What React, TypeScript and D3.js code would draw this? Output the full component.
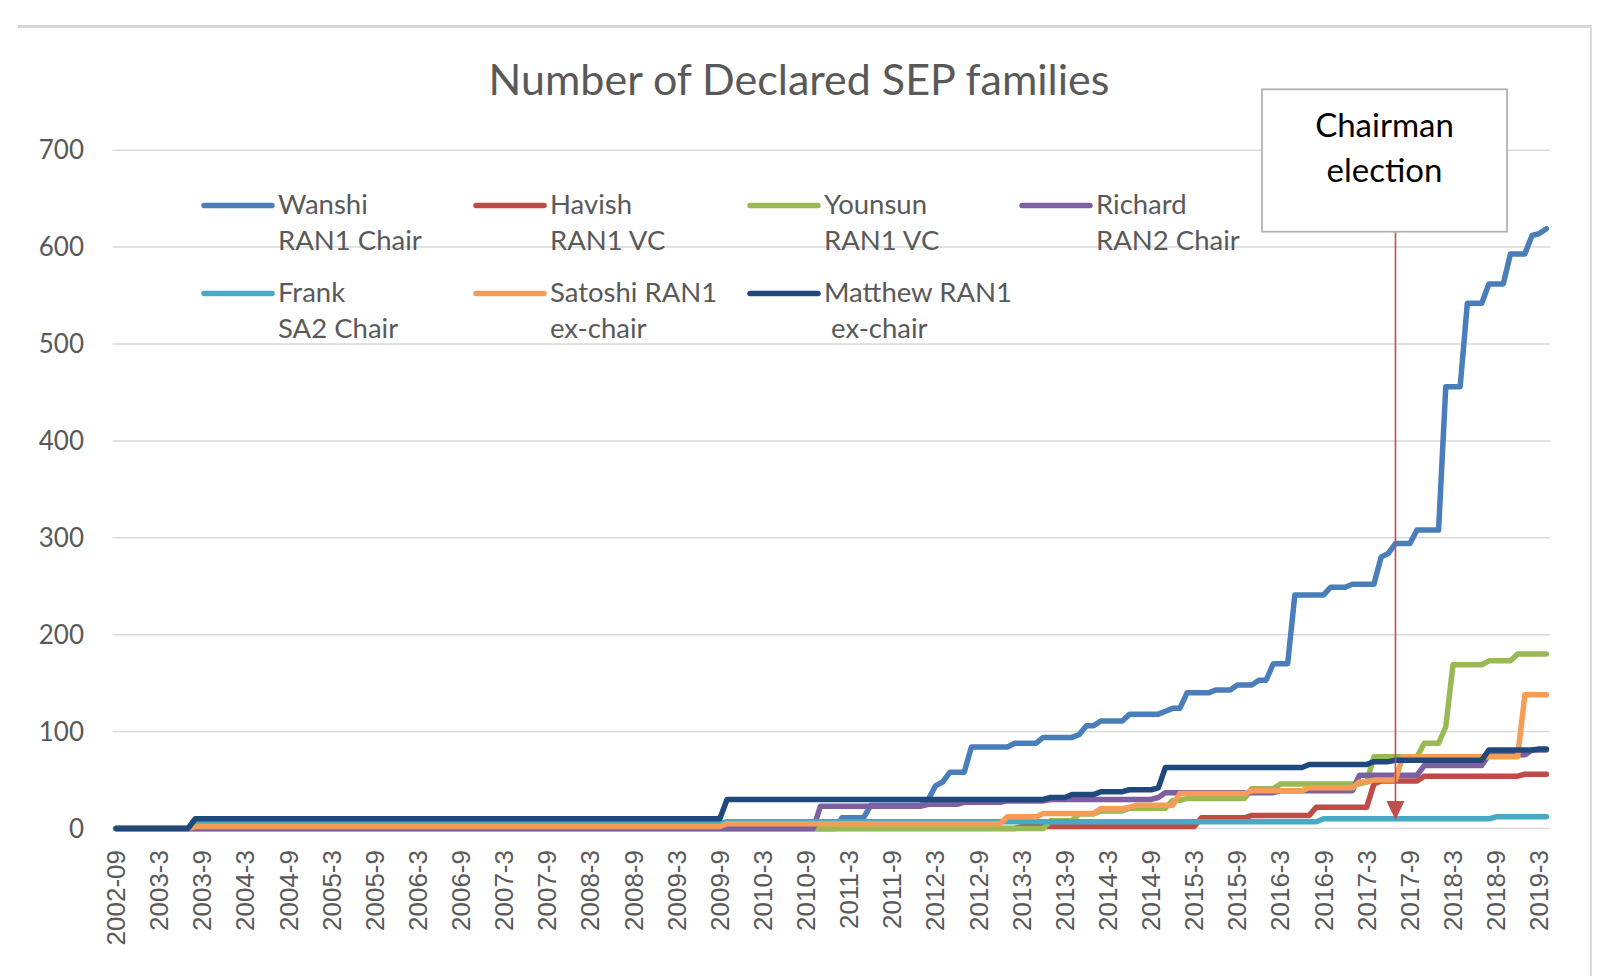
import React from 'react';
import * as d3 from 'd3';

// ---------- data ----------
const START_MONTH = '2002-09';
const END_MONTH = '2019-04';

const tickLabels = [
  '2002-09', '2003-3', '2003-9', '2004-3', '2004-9', '2005-3', '2005-9', '2006-3', '2006-9',
  '2007-3', '2007-9', '2008-3', '2008-9', '2009-3', '2009-9', '2010-3', '2010-9', '2011-3',
  '2011-9', '2012-3', '2012-9', '2013-3', '2013-9', '2014-3', '2014-9', '2015-3', '2015-9',
  '2016-3', '2016-9', '2017-3', '2017-9', '2018-3', '2018-9', '2019-3',
];

const yTicks = [0, 100, 200, 300, 400, 500, 600, 700];

// cumulative counts: [month the value starts, value]
const wanshi: [string, number][] = [
  ['2002-09', 0], ['2011-02', 11], ['2011-06', 24], ['2012-02', 30], ['2012-03', 44],
  ['2012-04', 48], ['2012-05', 58], ['2012-08', 84], ['2013-02', 88], ['2013-06', 94],
  ['2013-11', 97], ['2013-12', 106], ['2014-02', 111], ['2014-06', 118], ['2014-11', 121],
  ['2014-12', 124], ['2015-02', 140], ['2015-06', 143], ['2015-09', 148], ['2015-12', 153],
  ['2016-02', 170], ['2016-05', 241], ['2016-10', 249], ['2017-01', 252], ['2017-05', 280],
  ['2017-06', 284], ['2017-07', 294], ['2017-10', 308], ['2018-02', 456], ['2018-05', 542],
  ['2018-08', 562], ['2018-11', 593], ['2019-02', 612], ['2019-03', 614], ['2019-04', 619],
];
const havish: [string, number][] = [
  ['2002-09', 0], ['2013-03', 2], ['2015-04', 11], ['2015-11', 13.5], ['2016-08', 22],
  ['2017-04', 46], ['2017-05', 49], ['2017-11', 54], ['2019-01', 56],
];
const younsun: [string, number][] = [
  ['2002-09', 0], ['2013-07', 8], ['2013-11', 15], ['2014-02', 18], ['2014-06', 21],
  ['2014-12', 29], ['2015-02', 31], ['2015-11', 41], ['2016-03', 46], ['2017-03', 48],
  ['2017-04', 74], ['2017-11', 88], ['2018-02', 105], ['2018-03', 169], ['2018-08', 173],
  ['2018-12', 180],
];
const richard: [string, number][] = [
  ['2002-09', 0], ['2010-11', 23], ['2012-02', 25], ['2012-07', 27], ['2013-01', 28.5],
  ['2013-07', 30], ['2014-10', 32], ['2014-11', 37], ['2016-03', 39], ['2017-02', 55],
  ['2017-11', 65], ['2018-08', 76], ['2019-02', 81],
];
const frank: [string, number][] = [
  ['2002-09', 0], ['2003-08', 5], ['2009-10', 7], ['2016-09', 10], ['2018-09', 12],
];
const satoshi: [string, number][] = [
  ['2002-09', 0], ['2003-08', 2], ['2009-10', 5], ['2013-01', 12], ['2013-06', 15.5],
  ['2014-02', 20.5], ['2014-06', 22], ['2014-07', 24], ['2015-01', 36], ['2015-11', 39],
  ['2016-07', 42], ['2017-02', 48], ['2017-04', 50], ['2017-08', 74], ['2019-01', 138],
];
const matthew: [string, number][] = [
  ['2002-09', 0], ['2003-08', 10], ['2009-10', 30], ['2013-07', 32], ['2013-10', 35],
  ['2014-02', 38], ['2014-06', 40], ['2014-10', 42], ['2014-11', 63], ['2016-07', 66],
  ['2017-04', 69], ['2017-07', 70.5], ['2018-08', 81], ['2019-03', 82],
];

const seriesNames = [
  ['Wanshi', 'RAN1 Chair'],
  ['Havish', 'RAN1 VC'],
  ['Younsun', 'RAN1 VC'],
  ['Richard', 'RAN2 Chair'],
  ['Frank', 'SA2 Chair'],
  ['Satoshi RAN1', 'ex-chair'],
  ['Matthew RAN1', ' ex-chair'],
];
const seriesData = [wanshi, havish, younsun, richard, frank, satoshi, matthew];
const seriesColors = ['#4a7ebb', '#be4b48', '#98b954', '#7d60a0', '#46aac5', '#f59d56', '#1f497d'];

const TITLE = 'Number of Declared SEP families';
const ANNOTATION = ['Chairman', 'election'];
const ANNOTATION_MONTH = '2017-07';

// ---------- helpers ----------
const fmt = d3.timeFormat('%Y-%m');
const parse = d3.timeParse('%Y-%m');
const months = d3.timeMonth.range(parse(START_MONTH)!, d3.timeMonth.offset(parse(END_MONTH)!, 1)).map(fmt);
const labelKey = (l: string) => {
  const [y, m] = l.split('-');
  return `${y}-${m.padStart(2, '0')}`;
};
const prevMonth = (k: string) => fmt(d3.timeMonth.offset(parse(k)!, -1));

const W = 1600;
const H = 976;
const plotLeft = 112.5;
const plotRight = 1550;
const yBottom = 828.5;
const yTop = 150.2;

export default function App() {
  const band = d3.scaleBand<string>().domain(months).range([plotLeft, plotRight]).paddingInner(0).paddingOuter(0);
  const x = (k: string) => (band(k) as number) + band.bandwidth() / 2;
  const y = d3.scaleLinear().domain([0, 700]).range([yBottom, yTop]);

  const line = d3
    .line<[string, number]>()
    .x((d) => x(d[0]))
    .y((d) => y(d[1]));

  const vertices = (steps: [string, number][]) => {
    const pts: [string, number][] = [steps[0]];
    for (let i = 1; i < steps.length; i++) {
      const pm = prevMonth(steps[i][0]);
      if (pm !== pts[pts.length - 1][0]) pts.push([pm, steps[i - 1][1]]);
      pts.push(steps[i]);
    }
    const last = steps[steps.length - 1];
    if (last[0] !== END_MONTH) pts.push([END_MONTH, last[1]]);
    return pts;
  };

  const legendCols = [204, 476, 750, 1022];
  const legendRows = [205.5, 293.5];
  const fontUI = 'Lato, "Open Sans", sans-serif';
  const grey = '#595959';

  const ax = x(ANNOTATION_MONTH);

  return (
    <svg width={W} height={H} style={{ position: 'absolute', left: 0, top: 0, background: '#fff' }}>
      <rect x={0} y={0} width={W} height={H} fill="#fff" />
      {/* chart frame */}
      <line x1={18} x2={1592} y1={26.5} y2={26.5} stroke="#d6d6d6" strokeWidth={3} />
      <line x1={1591} x2={1591} y1={26} y2={H} stroke="#dcdcdc" strokeWidth={2} />

      {/* title */}
      <text x={799} y={95} textAnchor="middle" fontFamily={fontUI} fontSize={43} fill={grey}>
        {TITLE}
      </text>

      {/* gridlines + y labels */}
      {yTicks.map((t) => (
        <g key={t}>
          <line x1={plotLeft} x2={plotRight} y1={y(t)} y2={y(t)} stroke="#d9d9d9" strokeWidth={1.5} />
          <text x={84} y={y(t) + 9} textAnchor="end" fontFamily={fontUI} fontSize={26} fill={grey}>
            {t}
          </text>
        </g>
      ))}

      {/* x labels */}
      {tickLabels.map((l) => {
        const cx = x(labelKey(l));
        return (
          <text
            key={l}
            transform={`translate(${cx + 9},850) rotate(-90)`}
            textAnchor="end"
            fontFamily='"Liberation Sans", Arial, sans-serif'
            fontSize={26}
            fill={grey}
          >
            {l}
          </text>
        );
      })}

      {/* series */}
      {seriesData.map((s, i) => (
        <path
          key={i}
          d={line(vertices(s)) || ''}
          fill="none"
          stroke={seriesColors[i]}
          strokeWidth={5.5}
          strokeLinejoin="round"
          strokeLinecap="round"
        />
      ))}

      {/* legend */}
      {seriesNames.map((nm, i) => {
        const col = i < 4 ? i : i - 4;
        const row = i < 4 ? 0 : 1;
        const lx = legendCols[col];
        const ly = legendRows[row];
        return (
          <g key={i}>
            <line x1={lx} x2={lx + 68} y1={ly} y2={ly} stroke={seriesColors[i]} strokeWidth={5.5} strokeLinecap="round" />
            <text x={lx + 74} y={ly + 8} fontFamily={fontUI} fontSize={27.5} fill={grey} style={{ whiteSpace: 'pre' }}>
              {nm[0]}
            </text>
            <text x={lx + 74} y={ly + 44.5} fontFamily={fontUI} fontSize={27.5} fill={grey} style={{ whiteSpace: 'pre' }}>
              {nm[1]}
            </text>
          </g>
        );
      })}

      {/* annotation */}
      <line x1={ax} x2={ax} y1={232} y2={803} stroke="#c0504d" strokeWidth={1.6} />
      <path d={`M${ax - 9},801 L${ax + 9},801 L${ax},820 Z`} fill="#c0504d" />
      <rect x={1262} y={89.3} width={245} height={142.4} fill="#fff" stroke="#b3b3b3" strokeWidth={1.8} />
      <text x={1384.5} y={136.7} textAnchor="middle" fontFamily={fontUI} fontSize={33} fill="#000">
        {ANNOTATION[0]}
      </text>
      <text x={1384.5} y={181.7} textAnchor="middle" fontFamily={fontUI} fontSize={33} fill="#000">
        {ANNOTATION[1]}
      </text>
    </svg>
  );
}
